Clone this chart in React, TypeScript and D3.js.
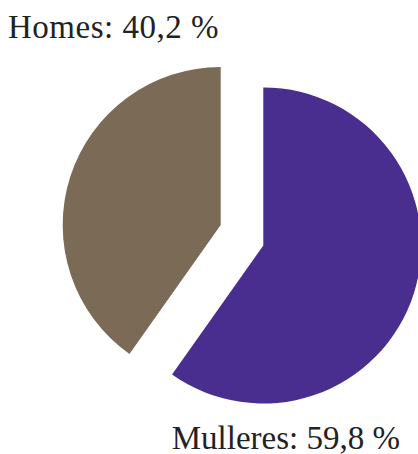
import React from "react";
import * as d3 from "d3";

const categories = ["Mulleres", "Homes"];
const values = [59.8, 40.2];
const labels = ["Mulleres: 59,8 %", "Homes: 40,2 %"];
const colors = ["#492e8f", "#7b6a55"];

const W = 418;
const H = 454;
const R = 158;
// per-slice centers (exploded layout)
const centers: [number, number][] = [
  [263.3, 245.5],
  [220.7, 225],
];
const labelPos: [number, number, string, number][] = [
  [400, 448.5, "end", 0],
  [8, 38, "start", 0.5],
];

export default function App() {
  const pie = d3
    .pie<number>()
    .sort(null)
    .value((d) => d);
  const arcs = pie(values);
  const arc = d3.arc<d3.PieArcDatum<number>>().innerRadius(0).outerRadius(R);
  return (
    <svg
      width={W}
      height={H}
      style={{ position: "absolute", left: 0, top: 0 }}
    >
      {arcs.map((a, i) => (
        <path
          key={categories[i]}
          d={arc(a) || ""}
          fill={colors[i]}
          transform={`translate(${centers[i][0]},${centers[i][1]})`}
        />
      ))}
      {labels.map((t, i) => (
        <text
          key={t}
          x={labelPos[i][0]}
          y={labelPos[i][1]}
          textAnchor={labelPos[i][2] as any}
          letterSpacing={labelPos[i][3]}
          fontFamily="Liberation Serif, serif"
          fontSize={33}
          fill="#222"
        >
          {t}
        </text>
      ))}
    </svg>
  );
}
